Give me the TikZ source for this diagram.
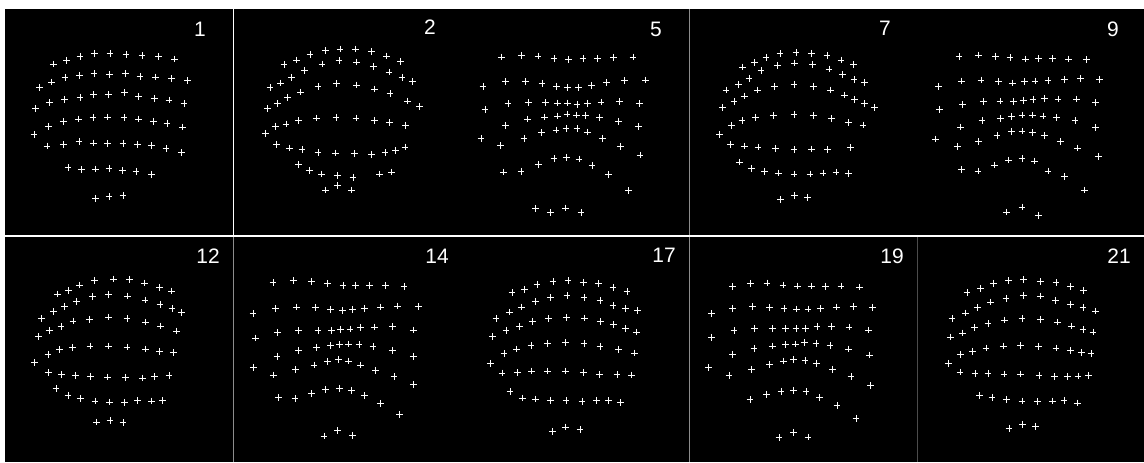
\documentclass[tikz,border=0pt]{standalone}
\usepackage{fontspec}
\setmainfont{Liberation Sans}
\usepackage{tikz}

\begin{document}
\begin{tikzpicture}[
  x=0.75pt, y=-0.75pt,
  crosses/.style = {draw=white, line width=0.7pt, mark size=2.6pt},
  lbl/.style     = {text=white, inner sep=0pt, font=\fontsize{15.7}{18}\selectfont},
  sep/.style     = {draw=black!45, line width=0.75pt}
]
\useasboundingbox (0,0) rectangle (1144,462);
\fill[white] (0,0) rectangle (1144,462);

%%% ---- BACKGROUND ----
\fill[black] (5,9)   rectangle (1144,235);
\fill[black] (5,237) rectangle (1144,462);
\draw[white,line width=0.75pt] (233,9) -- (233,235);
\draw[sep] (689,9)   -- (689,235);
\draw[sep] (233,237) -- (233,462);
\draw[sep] (689,237) -- (689,462);
\draw[draw=black!70,line width=0.75pt] (917,237) -- (917,462);

%%% ---- TOP ROW ----
\begin{scope}[x=0.25pt, y=-0.25pt]
\draw[crosses] plot[only marks, mark=+] coordinates {
  (160,192) (200,181) (240,169) (283,160) (330,160) (378,164) (426,167) (476,170) (524,177)
  (119,262) (155,246) (195,233) (238,226) (282,221) (328,223) (376,221) (420,230) (467,231) (515,236) (563,242)
  (107,326) (148,308) (194,298) (240,292) (281,284) (325,284) (374,278) (416,289) (463,295) (507,300) (552,311)
  (145,379) (190,365) (235,357) (279,353) (322,351) (372,353) (416,357) (460,364) (501,370) (548,381) (102,404)
  (141,438) (190,434) (237,425) (280,429) (323,431) (369,430) (412,433) (454,437) (498,446) (544,458)
  (204,503) (244,509) (286,507) (327,505) (367,512) (408,514) (455,523)
  (287,596) (327,590) (369,586)};
\end{scope}

\begin{scope}[xshift=172.5pt, x=0.25pt, y=-0.25pt]
\draw[crosses] plot[only marks, mark=+] coordinates {
  (162,194) (200,180) (240,163) (286,152) (330,147) (376,147) (424,155) (470,168) (512,184)
  (224,211) (276,192) (327,182) (380,186) (430,200) (477,216) (516,232) (547,245)
  (185,233) (152,249) (120,263)
  (212,276) (264,260) (320,251) (380,255) (433,267) (480,281) (533,303) (569,319)
  (173,292) (143,311) (113,326)
  (136,379) (168,372) (206,362) (259,354) (318,352) (378,354) (433,361) (478,368) (527,376) (106,400)
  (140,433) (178,444) (216,449) (264,457) (316,459) (373,461) (425,463) (465,457) (497,452) (525,441)
  (206,494) (238,511) (275,522) (322,527) (369,532) (449,522) (484,516)
  (287,570) (323,557) (365,570)};
\end{scope}

\begin{scope}[xshift=345pt, x=0.25pt, y=-0.25pt]
\draw[crosses] plot[only marks, mark=+] coordinates {
  (124,171) (184,166) (234,168) (282,176) (325,179) (369,176) (412,176) (461,172) (519,171)
  (69,259) (137,245) (196,245) (246,250) (289,259) (322,262) (356,262) (395,256) (439,247) (493,242) (557,240)
  (75,328) (144,311) (205,307) (256,308) (293,309) (322,309) (351,313) (383,310) (423,306) (478,305) (538,311)
  (202,357) (254,351) (293,348) (321,342) (350,345) (377,347) (419,352) (475,364) (535,380) (137,377)
  (63,415) (121,437) (192,415) (245,398) (288,390) (318,386) (351,386) (382,396) (428,415) (481,439) (540,465)
  (131,516) (183,514) (235,493) (282,476) (319,472) (357,477) (396,496) (446,524) (506,572)
  (227,626) (271,638) (317,624) (363,638)};
\end{scope}

\begin{scope}[xshift=525pt, x=0.25pt, y=-0.25pt]
\draw[crosses] plot[only marks, mark=+] coordinates {
  (128,201) (163,188) (198,172) (240,161) (288,157) (334,160) (381,166) (423,180) (461,193)
  (183,212) (233,197) (284,189) (338,194) (387,207) (427,224) (462,239) (494,247)
  (147,235) (116,253) (78,270)
  (172,270) (223,259) (282,253) (340,259) (391,270) (433,285) (464,298) (494,311) (524,322)
  (133,288) (102,305) (68,323)
  (94,376) (126,362) (167,352) (220,347) (282,343) (340,347) (394,356) (445,368) (489,375) (59,403)
  (92,434) (134,438) (174,441) (226,446) (282,449) (335,447) (382,449) (451,443)
  (118,486) (154,505) (194,514) (235,519) (282,522) (330,522) (369,519) (408,516) (445,521)
  (242,599) (283,587) (323,592)};
\end{scope}

\begin{scope}[xshift=682.5pt, x=0.25pt, y=-0.25pt]
\draw[crosses] plot[only marks, mark=+] coordinates {
  (147,169) (205,165) (257,169) (300,173) (346,177) (385,176) (428,176) (476,177) (529,179)
  (86,259) (154,243) (213,240) (266,244) (307,249) (343,245) (375,243) (414,242) (463,238) (512,235) (569,238)
  (89,328) (158,314) (220,305) (270,303) (311,305) (340,301) (369,298) (404,295) (444,297) (500,297) (557,307)
  (216,362) (271,355) (305,349) (336,345) (367,345) (399,348) (440,353) (495,362) (557,383) (152,381)
  (77,417) (142,440) (206,424) (261,407) (304,394) (336,393) (367,397) (403,407) (451,425) (503,444) (565,469)
  (154,509) (204,513) (253,495) (296,480) (336,476) (373,483) (414,513) (464,530) (523,570)
  (289,636) (336,621) (385,646)};
\end{scope}

%%% ---- BOTTOM ROW ----
\begin{scope}[yshift=-172.5pt, x=0.25pt, y=-0.25pt]
\draw[crosses] plot[only marks, mark=+] coordinates {
  (172,192) (205,181) (238,165) (283,151) (341,147) (389,148) (433,159) (479,172) (515,183)
  (229,214) (278,200) (326,193) (383,198) (435,210) (480,223) (516,236) (544,247)
  (194,229) (161,245) (124,266)
  (219,273) (268,268) (326,261) (381,266) (437,276) (482,288) (530,303)
  (183,290) (148,301) (116,320)
  (144,373) (179,359) (218,353) (270,348) (325,348) (381,351) (437,357) (479,364) (520,368) (104,398)
  (145,428) (185,434) (226,437) (272,439) (323,441) (376,442) (428,444) (464,440) (507,437)
  (168,476) (204,496) (241,505) (285,513) (329,516) (374,517) (413,512) (454,513) (488,512)
  (290,576) (330,572) (369,578)};
\end{scope}

\begin{scope}[xshift=172.5pt, yshift=-172.5pt, x=0.25pt, y=-0.25pt]
\draw[crosses] plot[only marks, mark=+] coordinates {
  (129,158) (190,152) (244,155) (293,161) (339,166) (377,166) (418,167) (466,167) (522,169)
  (69,251) (137,236) (200,231) (256,233) (302,239) (338,242) (368,239) (403,235) (451,231) (503,228) (565,230)
  (77,324) (143,308) (206,302) (264,302) (304,301) (332,298) (360,297) (391,292) (433,291) (488,290) (550,300)
  (206,361) (260,352) (302,347) (329,344) (355,342) (387,344) (429,350) (487,361) (550,379) (141,379)
  (70,412) (130,435) (197,419) (252,405) (293,394) (325,389) (355,393) (391,405) (437,421) (492,440) (550,463)
  (145,502) (195,506) (244,491) (286,478) (328,475) (364,481) (403,497) (451,520) (509,553)
  (282,618) (323,602) (367,616)};
\end{scope}

\begin{scope}[xshift=345pt, yshift=-172.5pt, x=0.25pt, y=-0.25pt]
\draw[crosses] plot[only marks, mark=+] coordinates {
  (156,188) (193,178) (231,163) (279,155) (324,152) (370,157) (415,161) (459,173) (501,185)
  (226,215) (271,203) (321,197) (372,203) (420,212) (459,227) (496,235) (533,242)
  (184,231) (148,246) (108,265)
  (217,274) (265,266) (319,263) (374,264) (421,274) (460,284) (496,296) (529,306)
  (178,289) (138,301) (98,320)
  (132,371) (170,357) (213,346) (263,340) (316,337) (372,341) (420,349) (475,358) (524,369) (91,400)
  (126,429) (172,428) (215,423) (263,423) (316,423) (370,427) (418,433) (471,434) (515,435)
  (150,485) (187,504) (226,507) (271,511) (318,512) (366,514) (409,511) (446,512) (481,518)
  (277,605) (316,591) (360,599)};
\end{scope}

\begin{scope}[xshift=525pt, yshift=-172.5pt, x=0.25pt, y=-0.25pt]
\draw[crosses] plot[only marks, mark=+] coordinates {
  (98,170) (152,160) (201,159) (249,165) (292,168) (334,168) (376,169) (423,168) (478,171)
  (35,251) (98,235) (158,230) (209,232) (252,236) (290,237) (324,237) (361,236) (409,231) (460,230) (518,232)
  (35,322) (102,302) (164,295) (217,296) (257,296) (288,296) (316,295) (351,290) (395,289) (447,291) (506,300)
  (162,355) (217,348) (257,344) (286,342) (313,338) (348,340) (390,346) (445,357) (508,375) (98,373)
  (25,412) (87,436) (154,418) (209,404) (250,393) (281,389) (315,392) (350,400) (398,418) (453,440) (512,466)
  (150,509) (200,493) (243,484) (281,481) (318,485) (359,503) (411,527) (468,565)
  (237,623) (281,607) (324,621)};
\end{scope}

\begin{scope}[xshift=682.5pt, yshift=-172.5pt, x=0.25pt, y=-0.25pt]
\draw[crosses] plot[only marks, mark=+] coordinates {
  (171,187) (212,175) (250,160) (296,152) (341,149) (391,155) (438,158) (482,170) (521,182)
  (242,216) (288,205) (340,196) (391,198) (436,211) (482,223) (519,233) (557,243)
  (202,233) (167,249) (126,266)
  (234,281) (283,270) (336,266) (391,268) (442,276) (485,288) (519,299) (549,306)
  (194,293) (158,309) (121,321)
  (151,374) (188,364) (228,354) (280,348) (331,346) (386,349) (438,354) (481,362) (514,367) (543,371) (115,400)
  (150,426) (195,431) (234,430) (282,432) (331,432) (387,436) (433,440) (472,440) (504,438) (535,437)
  (209,496) (246,502) (289,508) (336,513) (382,515) (427,513) (462,511) (502,519)
  (297,595) (338,583) (377,590)};
\end{scope}

%%% ---- FRAME NUMBERS ----
\node[lbl] (f1)  at (200,29)  {1};
\node[lbl] (f2)  at (430,27)  {2};
\node[lbl] (f5)  at (656,29)  {5};
\node[lbl] (f7)  at (885,28)  {7};
\node[lbl] (f9)  at (1113,29) {9};
\node[lbl] (f12) at (208,256) {12};
\node[lbl] (f14) at (437,256) {14};
\node[lbl] (f17) at (664,255) {17};
\node[lbl] (f19) at (892,256) {19};
\node[lbl] (f21) at (1119,256) {21};
\end{tikzpicture}
\end{document}
